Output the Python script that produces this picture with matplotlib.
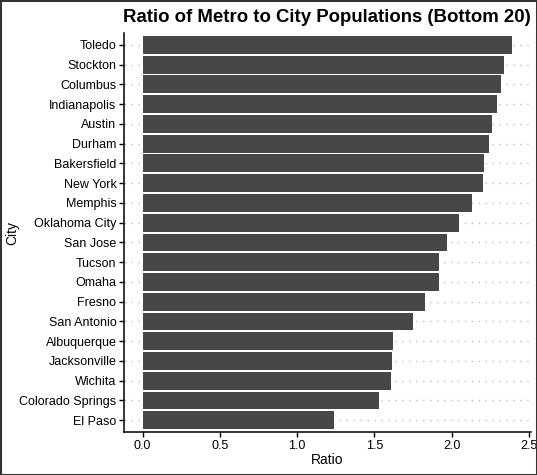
import matplotlib.pyplot as plt
from matplotlib.patches import Rectangle

plt.rcParams['font.family'] = ['Liberation Sans', 'DejaVu Sans']

# Bottom 20 cities, listed top to bottom as in the chart
cities = ["Toledo", "Stockton", "Columbus", "Indianapolis", "Austin", "Durham",
          "Bakersfield", "New York", "Memphis", "Oklahoma City", "San Jose",
          "Tucson", "Omaha", "Fresno", "San Antonio", "Albuquerque",
          "Jacksonville", "Wichita", "Colorado Springs", "El Paso"]
ratios = [2.39, 2.34, 2.32, 2.29, 2.26, 2.24, 2.21, 2.20, 2.13, 2.05, 1.97,
          1.92, 1.915, 1.83, 1.75, 1.62, 1.615, 1.61, 1.53, 1.24]
xticks = [0.0, 0.5, 1.0, 1.5, 2.0, 2.5]

fig = plt.figure(figsize=(5.37, 4.75), dpi=100)
ax = fig.add_axes([0.231, 0.0905, 0.757, 0.84])

pos = list(range(len(cities)))[::-1]
ax.barh(pos, ratios, height=0.9, color='#474747', zorder=2)

ax.set_yticks(pos)
ax.set_yticklabels(cities, fontsize=9, color='black')
ax.set_xticks(xticks)
ax.set_xticklabels([f"{t:.1f}" for t in xticks], fontsize=9, color='black')
ax.set_xlim(-0.12, 2.51)
ax.set_ylim(-0.6, 19.6)

ax.grid(axis='y', linestyle=(0, (1, 4)), color='#bdbdbd', linewidth=1.0, zorder=1)
ax.set_axisbelow(True)
for s in ['top', 'right']:
    ax.spines[s].set_visible(False)
for s in ['left', 'bottom']:
    ax.spines[s].set_linewidth(1.1)
ax.tick_params(length=3.5, width=1.0, colors='black', pad=2)

ax.set_xlabel("Ratio", fontsize=10)
ax.set_ylabel("City", fontsize=10)
ax.xaxis.set_label_coords(0.5, -0.07, transform=ax.transAxes)
ax.yaxis.set_label_coords(-0.276, 0.5, transform=ax.transAxes)
ax.xaxis.label.set_va('center')
ax.yaxis.label.set_va('center')
ax.set_title("Ratio of Metro to City Populations (Bottom 20)",
             fontsize=13.4, fontweight='bold', pad=8)

fig.patches.append(Rectangle((0, 0), 1, 1, transform=fig.transFigure,
                             fill=False, edgecolor='#333333', linewidth=2.2))

fig.savefig("out.png", dpi=100)
